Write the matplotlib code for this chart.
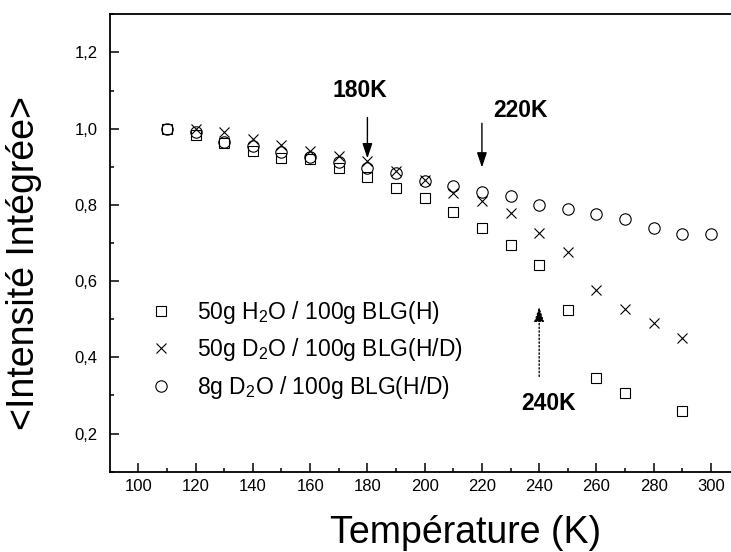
import numpy as np
import matplotlib
matplotlib.use('Agg')
import matplotlib.pyplot as plt
from matplotlib.ticker import MultipleLocator, FuncFormatter

plt.rcParams['font.family'] = ['Liberation Sans', 'DejaVu Sans']
plt.rcParams['mathtext.fontset'] = 'custom'
plt.rcParams['mathtext.rm'] = 'Liberation Sans'
plt.rcParams['mathtext.default'] = 'regular'

# data
t_h2o = [110, 120, 130, 140, 150, 160, 170, 180, 190, 200, 210, 220, 230, 240, 250, 260, 270, 290]
i_h2o = [1.0, 0.983, 0.963, 0.942, 0.922, 0.92, 0.898, 0.872, 0.845, 0.817, 0.781, 0.74, 0.695, 0.642,
         0.523, 0.346, 0.307, 0.258]
t_d2o50 = [120, 130, 140, 150, 160, 170, 180, 190, 200, 210, 220, 230, 240, 250, 260, 270, 280, 290]
i_d2o50 = [1.0, 0.99, 0.974, 0.956, 0.942, 0.928, 0.914, 0.889, 0.865, 0.832, 0.81, 0.78, 0.727, 0.677,
           0.576, 0.526, 0.49, 0.45]
t_d2o8 = [110, 120, 130, 140, 150, 160, 170, 180, 190, 200, 210, 220, 230, 240, 250, 260, 270, 280, 290, 300]
i_d2o8 = [1.0, 0.99, 0.965, 0.955, 0.94, 0.926, 0.913, 0.898, 0.883, 0.863, 0.85, 0.834, 0.822, 0.80,
          0.79, 0.775, 0.764, 0.74, 0.723, 0.723]
labels = ['50g H$_2$O / 100g BLG(H)', '50g D$_2$O / 100g BLG(H/D)', '8g D$_2$O / 100g BLG(H/D)']

fig = plt.figure(figsize=(7.31, 5.52), dpi=100)
ax = fig.add_axes([110 / 731, 1 - 471.7 / 552, 621 / 731, 457.4 / 552])

ax.plot(t_h2o, i_h2o, 's', ms=6.5, mfc='none', mec='k', mew=0.8, label=labels[0])
ax.plot(t_d2o50, i_d2o50, 'x', ms=7.5, color='k', mew=0.8, label=labels[1])
ax.plot(t_d2o8, i_d2o8, 'o', ms=8.2, mfc='none', mec='k', mew=0.8, label=labels[2])

ax.set_xlim(90.1, 307)
ax.set_ylim(0.1, 1.3)
ax.xaxis.set_major_locator(MultipleLocator(20))
ax.xaxis.set_minor_locator(MultipleLocator(10))
ax.yaxis.set_major_locator(MultipleLocator(0.2))
ax.yaxis.set_minor_locator(MultipleLocator(0.1))
ax.yaxis.set_major_formatter(FuncFormatter(lambda v, p: ('%.1f' % v).replace('.', ',')))
ax.tick_params(which='both', direction='in', width=1.1, labelsize=12)
ax.tick_params(which='major', length=6.5)
ax.tick_params(which='minor', length=3.2)
ax.tick_params(axis='x', pad=5)
ax.tick_params(axis='y', pad=9)
for s in ['left', 'bottom', 'top']:
    ax.spines[s].set_linewidth(1.3)
ax.spines['right'].set_visible(False)

ax.set_xlabel('Température (K)', fontsize=27)
ax.xaxis.set_label_coords(0.573, -0.095)
ax.set_ylabel('<Intensité Intégrée>', fontsize=27, va='center')
ax.yaxis.set_label_coords(-0.1385, 0.456)

arrow = dict(arrowstyle='-|>,head_length=0.6,head_width=0.2', color='k', lw=1, mutation_scale=15,
             shrinkA=0, shrinkB=0)
ax.annotate('', xy=(180, 0.922), xytext=(180, 1.029), arrowprops=arrow)
ax.annotate('', xy=(220, 0.898), xytext=(220, 1.014), arrowprops=arrow)
dotted = dict(arrow, linestyle=':')
ax.annotate('', xy=(240, 0.533), xytext=(240, 0.35), arrowprops=dotted)
ax.text(177.5, 1.099, '180K', fontsize=16.5, fontweight='bold', ha='center', va='center')
ax.text(233.4, 1.047, '220K', fontsize=16.5, fontweight='bold', ha='center', va='center')
ax.text(243.2, 0.28, '240K', fontsize=16.5, fontweight='bold', ha='center', va='center')

ax.legend(loc='upper left', bbox_to_anchor=(151.8 / 731, 1 - 299 / 552), bbox_transform=fig.transFigure,
          frameon=False, fontsize=16.5, handlelength=0.8, handletextpad=1.17, borderpad=0,
          borderaxespad=0, labelspacing=0.45)

fig.savefig('out.png', dpi=100)
